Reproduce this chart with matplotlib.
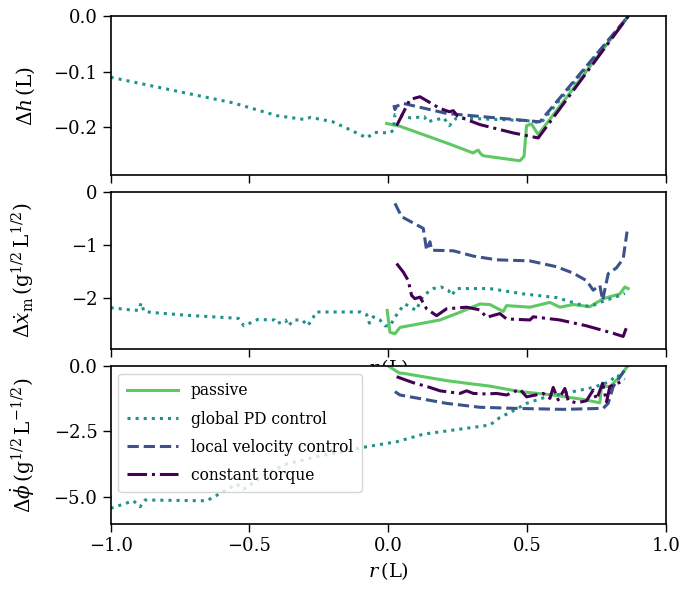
import matplotlib
matplotlib.use("Agg")
import matplotlib.pyplot as plt

plt.rcParams['font.family'] = ['DejaVu Serif']
plt.rcParams['mathtext.fontset'] = 'dejavuserif'

# ---------------- data ----------------
labels = ["passive", "global PD control", "local velocity control", "constant torque"]
colors = ["#5ec962", "#21918c", "#3b528b", "#440154"]
styles = ["-", ":", "--", "-."]

# top panel: Delta h
h_passive_x = [-0.006, 0.042, 0.21, 0.306, 0.318, 0.324, 0.332, 0.342, 0.474, 0.489, 0.498, 0.516, 0.54, 0.865]
h_passive_y = [-0.193, -0.198, -0.228, -0.246, -0.242, -0.241, -0.247, -0.251, -0.26, -0.252, -0.197, -0.194, -0.213, 0.0]
h_pd_x = [-1.0, -0.8, -0.559, -0.401, -0.3, -0.28, -0.2, -0.139, -0.077, -0.05, 0.006, 0.018, 0.024,
          0.08, 0.13, 0.14, 0.2, 0.22, 0.246, 0.3, 0.4, 0.5, 0.55, 0.865]
h_pd_y = [-0.11, -0.131, -0.156, -0.179, -0.186, -0.182, -0.19, -0.204, -0.219, -0.209, -0.21, -0.205,
          -0.177, -0.183, -0.181, -0.19, -0.183, -0.197, -0.183, -0.184, -0.186, -0.188, -0.192, 0.0]
h_vel_x = [0.02, 0.024, 0.03, 0.054, 0.21, 0.39, 0.546, 0.865]
h_vel_y = [-0.16, -0.168, -0.162, -0.157, -0.175, -0.183, -0.19, 0.0]
h_tor_x = [0.03, 0.078, 0.114, 0.186, 0.22, 0.234, 0.25, 0.33, 0.45, 0.54, 0.865]
h_tor_y = [-0.197, -0.15, -0.145, -0.166, -0.172, -0.17, -0.18, -0.195, -0.21, -0.219, 0.0]

# middle panel: Delta x_m dot
m_passive_x = [-0.004, 0.006, 0.024, 0.042, 0.114, 0.186, 0.246, 0.33, 0.366, 0.414, 0.426, 0.51,
               0.582, 0.618, 0.666, 0.726, 0.774, 0.834, 0.852, 0.864]
m_passive_y = [-2.23, -2.64, -2.67, -2.55, -2.48, -2.41, -2.29, -2.11, -2.12, -2.25, -2.14, -2.17,
               -2.08, -2.17, -2.12, -2.16, -2.01, -1.92, -1.79, -1.82]
m_pd_x = [-1.0, -0.93, -0.9, -0.89, -0.88, -0.85, -0.73, -0.57, -0.54, -0.52, -0.49, -0.47, -0.41,
          -0.4, -0.37, -0.36, -0.34, -0.31, -0.29, -0.27, -0.26, -0.1, -0.078, -0.068, -0.054,
          -0.03, -0.012, 0.006, 0.036, 0.06, 0.1, 0.126, 0.162, 0.19, 0.216, 0.228, 0.246, 0.366,
          0.486, 0.606, 0.69, 0.726, 0.774, 0.834, 0.852]
m_pd_y = [-2.18, -2.22, -2.23, -2.09, -2.25, -2.27, -2.32, -2.37, -2.38, -2.52, -2.45, -2.40, -2.41,
          -2.48, -2.41, -2.52, -2.41, -2.41, -2.52, -2.36, -2.26, -2.26, -2.31, -2.47, -2.35,
          -2.41, -2.52, -2.52, -2.26, -2.11, -2.23, -1.95, -1.82, -1.79, -1.85, -1.95, -1.82, -1.82,
          -1.92, -1.99, -2.12, -2.16, -2.06, -1.95, -1.91]
m_vel_x = [0.024, 0.048, 0.126, 0.138, 0.15, 0.156, 0.234, 0.306, 0.39, 0.51, 0.606, 0.666, 0.714,
           0.738, 0.762, 0.772, 0.792, 0.822, 0.846, 0.86]
m_vel_y = [-0.22, -0.47, -0.69, -1.10, -0.94, -1.10, -1.11, -1.21, -1.28, -1.30, -1.41, -1.53, -1.67,
           -1.85, -1.76, -2.04, -1.54, -1.43, -1.26, -0.75]
m_tor_x = [0.03, 0.054, 0.072, 0.084, 0.096, 0.114, 0.138, 0.174, 0.21, 0.282, 0.33, 0.354, 0.402,
           0.426, 0.51, 0.522, 0.618, 0.714, 0.81, 0.846, 0.858]
m_tor_y = [-1.35, -1.51, -1.67, -1.95, -2.01, -1.98, -2.20, -2.33, -2.20, -2.17, -2.22, -2.36, -2.29,
           -2.39, -2.41, -2.35, -2.41, -2.52, -2.66, -2.72, -2.55]

# bottom panel: Delta phi dot
p_passive_x = [0.0, 0.04, 0.054, 0.21, 0.282, 0.366, 0.474, 0.594, 0.702, 0.762, 0.768, 0.798, 0.834, 0.862]
p_passive_y = [0.0, -0.27, -0.28, -0.56, -0.66, -0.77, -0.98, -1.11, -1.28, -1.41, -0.77, -0.79, -0.41, 0.0]
p_pd_x = [-1.0, -0.918, -0.894, -0.876, -0.654, -0.606, -0.546, -0.522, -0.498, -0.438, -0.366,
          -0.258, -0.078, 0.03, 0.126, 0.366, 0.402, 0.444, 0.498, 0.57, 0.666, 0.738, 0.798,
          0.822, 0.852]
p_pd_y = [-5.45, -5.16, -5.39, -5.13, -5.16, -4.88, -4.52, -4.72, -4.56, -4.11, -3.75,
          -3.47, -3.09, -2.9, -2.61, -2.26, -1.97, -1.75, -1.43, -1.18, -0.98, -0.82, -0.60,
          -0.34, -0.51]
p_vel_x = [0.024, 0.042, 0.21, 0.33, 0.45, 0.63, 0.774, 0.792, 0.81, 0.862]
p_vel_y = [-0.98, -1.11, -1.43, -1.58, -1.62, -1.66, -1.62, -1.43, -0.79, 0.0]
p_tor_x = [0.03, 0.09, 0.15, 0.186, 0.258, 0.282, 0.306, 0.354, 0.39, 0.426, 0.474, 0.498, 0.558,
           0.582, 0.594, 0.612, 0.636, 0.648, 0.678, 0.714, 0.738, 0.75, 0.772, 0.786, 0.798, 0.852]
p_tor_y = [-0.41, -0.64, -0.82, -0.95, -1.05, -0.95, -1.05, -1.07, -1.05, -1.11, -0.89, -1.18, -1.05,
           -1.24, -0.82, -1.30, -0.86, -1.33, -1.41, -1.33, -0.92, -1.28, -0.66, -1.37, -0.79, -0.54]

xticks = [-1.0, -0.5, 0.0, 0.5, 1.0]
top_yticks = [0.0, -0.1, -0.2]
mid_yticks = [0, -1, -2]
bot_yticks = [0.0, -2.5, -5.0]

# ---------------- figure ----------------
fig = plt.figure(figsize=(6.83, 5.96), dpi=100)
L, W = 0.162, 0.813
ax1 = fig.add_axes([L, 0.7064, W, 0.2668])
ax2 = fig.add_axes([L, 0.414, W, 0.2644])
ax3 = fig.add_axes([L, 0.1203, W, 0.2656])

panels = [
    (ax1, [(h_passive_x, h_passive_y), (h_pd_x, h_pd_y), (h_vel_x, h_vel_y), (h_tor_x, h_tor_y)]),
    (ax2, [(m_passive_x, m_passive_y), (m_pd_x, m_pd_y), (m_vel_x, m_vel_y), (m_tor_x, m_tor_y)]),
    (ax3, [(p_passive_x, p_passive_y), (p_pd_x, p_pd_y), (p_vel_x, p_vel_y), (p_tor_x, p_tor_y)]),
]
for ax, series in panels:
    for (xs, ys), lab, c, ls in zip(series, labels, colors, styles):
        ax.plot(xs, ys, color=c, ls=ls, lw=2.2, label=lab)
    ax.set_xlim(-1.0, 1.0)
    ax.set_xticks(xticks)
    ax.tick_params(direction='out', length=6, width=1.0, labelsize=13)
    for sp in ax.spines.values():
        sp.set_linewidth(1.2)
    ax.set_facecolor('white')

ax1.set_ylim(-0.2855, 0.0)
ax1.set_yticks(top_yticks)
ax1.set_yticklabels(["0.0", "\u22120.1", "\u22120.2"])
ax1.tick_params(labelbottom=False)
ax1.set_ylabel(r'$\Delta h\,(\mathrm{L})$', fontsize=14.5)

ax2.set_ylim(-2.96, 0.0)
ax2.set_yticks(mid_yticks)
ax2.tick_params(labelbottom=False)
ax2.set_xlabel(r'$r\,(\mathrm{L})$', fontsize=14, labelpad=0)
ax2.set_ylabel(r'$\Delta\dot{x}_\mathrm{m}\,(\mathrm{g}^{1/2}\,\mathrm{L}^{1/2})$', fontsize=14.5)

ax3.set_ylim(-6.06, 0.0)
ax3.set_yticks(bot_yticks)
ax3.set_xlabel(r'$r\,(\mathrm{L})$', fontsize=14, labelpad=3)
ax3.set_ylabel(r'$\Delta\dot{\phi}\,(\mathrm{g}^{1/2}\,\mathrm{L}^{-1/2})$', fontsize=14.5)
ax3.legend(loc='upper left', fontsize=11.2, handlelength=3.3, framealpha=0.8,
           edgecolor='#cccccc', borderaxespad=0.5, labelspacing=0.72, borderpad=0.55)

for ax in (ax1, ax2, ax3):
    ax.yaxis.set_label_coords(-0.1325, 0.5)

fig.savefig("out.png", dpi=100)
